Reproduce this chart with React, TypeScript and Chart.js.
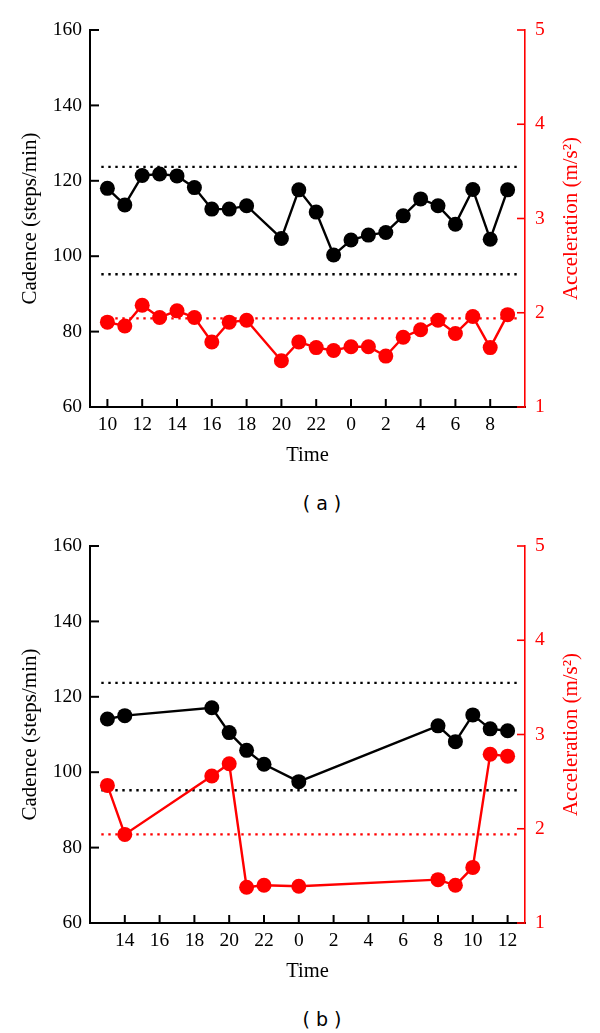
import React, { useEffect, useRef } from "react";
import { Chart, registerables } from "chart.js";

Chart.register(...registerables);

const SERIF = "'Liberation Serif', 'Times New Roman', serif";
const RED = "#ff0000";

// ---------- Panel (a) ----------
const hoursA = [10, 11, 12, 13, 14, 15, 16, 17, 18, 20, 21, 22, 23, 24, 25, 26, 27, 28, 29, 30, 31, 32, 33];
const cadenceA = [118.0, 113.6, 121.4, 121.8, 121.3, 118.2, 112.5, 112.5, 113.4, 104.7, 117.6, 111.7, 100.3, 104.3, 105.6, 106.3, 110.7, 115.2, 113.4, 108.5, 117.7, 104.5, 117.6];
const accelA = [1.90, 1.86, 2.08, 1.95, 2.02, 1.95, 1.69, 1.90, 1.92, 1.49, 1.69, 1.63, 1.60, 1.64, 1.64, 1.54, 1.74, 1.82, 1.92, 1.78, 1.96, 1.63, 1.98];
const timeTicksA = [10, 12, 14, 16, 18, 20, 22, 24, 26, 28, 30, 32];
const timeRangeA = [9, 34];
const refSpanA = [9.65, 33.7];

// ---------- Panel (b) ----------
const hoursB = [13, 14, 19, 20, 21, 22, 24, 32, 33, 34, 35, 36];
const cadenceB = [114.1, 115.0, 117.1, 110.5, 105.8, 102.1, 97.5, 112.3, 108.1, 115.2, 111.5, 111.0];
const accelB = [2.46, 1.94, 2.56, 2.69, 1.38, 1.40, 1.39, 1.46, 1.40, 1.59, 2.79, 2.77];
const timeTicksB = [14, 16, 18, 20, 22, 24, 26, 28, 30, 32, 34, 36];
const timeRangeB = [12, 37];
const refSpanB = [12.65, 36.75];

// ---------- shared ----------
const cadenceTicks = [60, 80, 100, 120, 140, 160];
const accelTicks = [1, 2, 3, 4, 5];
const cadenceLimits = [123.7, 95.2];
const accelLimit = 1.94;

const inwardTicks = {
  id: "inwardTicks",
  afterDraw(chart: any) {
    const { ctx, chartArea, scales } = chart;
    const { left, right, top, bottom } = chartArea;
    ctx.save();
    ctx.lineWidth = 2;
    ctx.strokeStyle = "#000";
    scales.x.ticks.forEach((t: any) => {
      const px = scales.x.getPixelForValue(t.value);
      ctx.beginPath();
      ctx.moveTo(px, bottom);
      ctx.lineTo(px, bottom - 8);
      ctx.stroke();
    });
    scales.y.ticks.forEach((t: any) => {
      const py = scales.y.getPixelForValue(t.value);
      ctx.beginPath();
      ctx.moveTo(left, py);
      ctx.lineTo(left + 9, py);
      ctx.stroke();
    });
    ctx.strokeStyle = RED;
    ctx.lineWidth = 1.6;
    scales.y2.ticks.forEach((t: any) => {
      const py = scales.y2.getPixelForValue(t.value);
      ctx.beginPath();
      ctx.moveTo(right, py);
      ctx.lineTo(right - 8, py);
      ctx.stroke();
    });
    // right axis title, reading bottom-to-top
    ctx.translate(571, (top + bottom) / 2);
    ctx.rotate(-Math.PI / 2);
    ctx.fillStyle = RED;
    ctx.font = `21px ${SERIF}`;
    ctx.textAlign = "center";
    ctx.textBaseline = "middle";
    ctx.fillText("Acceleration (m/s\u00B2)", 0, 0);
    ctx.restore();
  },
};

type PanelProps = {
  hours: number[];
  cadence: number[];
  accel: number[];
  ticks: number[];
  range: number[];
  span: number[];
  top: number;
  caption: string;
};

function Panel({ hours, cadence, accel, ticks, range, span, top, caption }: PanelProps) {
  const ref = useRef<HTMLCanvasElement | null>(null);

  useEffect(() => {
    if (!ref.current) return;
    const refLine = (val: number, color: string, axis: string) => ({
      type: "line" as const,
      data: span.map((x) => ({ x, y: val })),
      yAxisID: axis,
      borderColor: color,
      borderWidth: 2.4,
      borderDash: [2.4, 4.6],
      pointRadius: 0,
      order: 5,
    });
    const chart = new Chart(ref.current, {
      type: "line",
      data: {
        datasets: [
          {
            data: hours.map((x, i) => ({ x, y: cadence[i] })),
            yAxisID: "y",
            borderColor: "#000",
            backgroundColor: "#000",
            borderWidth: 2.4,
            pointRadius: 7.5,
            pointBorderWidth: 0,
            pointBackgroundColor: "#000",
            order: 1,
          },
          {
            data: hours.map((x, i) => ({ x, y: accel[i] })),
            yAxisID: "y2",
            borderColor: RED,
            backgroundColor: RED,
            borderWidth: 2.4,
            pointRadius: 7.5,
            pointBorderWidth: 0,
            pointBackgroundColor: RED,
            order: 2,
          },
          refLine(cadenceLimits[0], "#000", "y"),
          refLine(cadenceLimits[1], "#000", "y"),
          refLine(accelLimit, RED, "y2"),
        ],
      },
      options: {
        animation: false,
        responsive: false,
        maintainAspectRatio: false,
        layout: { padding: { top: 30, left: 0, right: 0, bottom: 0 } },
        plugins: { legend: { display: false }, tooltip: { enabled: false } },
        scales: {
          x: {
            type: "linear",
            position: "bottom",
            min: range[0],
            max: range[1],
            afterBuildTicks: (s: any) => {
              s.ticks = ticks.map((v) => ({ value: v }));
            },
            afterFit: (s: any) => {
              s.height = 73;
            },
            grid: { display: true, drawOnChartArea: false, drawTicks: false },
            border: { display: true, color: "#000", width: 2 },
            ticks: {
              color: "#000",
              font: { family: SERIF, size: 19.5 },
              padding: 6,
              autoSkip: false,
              maxRotation: 0,
              callback: (v: any) => String(Number(v) % 24),
            },
            title: {
              display: true,
              text: "Time",
              color: "#000",
              font: { family: SERIF, size: 20.5 },
              padding: { top: 0, bottom: 12.5 },
            },
          },
          y: {
            type: "linear",
            position: "left",
            min: 60,
            max: 160,
            afterBuildTicks: (s: any) => {
              s.ticks = cadenceTicks.map((v) => ({ value: v }));
            },
            afterFit: (s: any) => {
              s.width = 90;
            },
            grid: { display: true, drawOnChartArea: false, drawTicks: false },
            border: { display: true, color: "#000", width: 2 },
            ticks: { color: "#000", font: { family: SERIF, size: 19.5 }, padding: 8 },
            title: {
              display: true,
              text: "Cadence (steps/min)",
              color: "#000",
              font: { family: SERIF, size: 21 },
              padding: { top: 17.4, bottom: 0 },
            },
          },
          y2: {
            type: "linear",
            position: "right",
            min: 1,
            max: 5,
            afterBuildTicks: (s: any) => {
              s.ticks = accelTicks.map((v) => ({ value: v }));
            },
            afterFit: (s: any) => {
              s.width = 75;
            },
            grid: { display: true, drawOnChartArea: false, drawTicks: false },
            border: { display: true, color: RED, width: 1.6 },
            ticks: { color: RED, font: { family: SERIF, size: 19.5 }, padding: 10 },
          },
        },
      } as any,
      plugins: [inwardTicks],
    });
    return () => chart.destroy();
  }, []);

  return (
    <>
      <canvas
        ref={ref}
        width={600}
        height={480}
        style={{ position: "absolute", left: 0, top, width: 600, height: 480, display: "block" }}
      />
      <div
        style={{
          position: "absolute",
          left: 222,
          top: top + 490,
          width: 200,
          textAlign: "center",
          fontFamily: "'DejaVu Sans', sans-serif",
          fontSize: 19,
          lineHeight: "26px",
          color: "#000",
          whiteSpace: "pre",
        }}
      >
        {caption}
      </div>
    </>
  );
}

export default function App() {
  return (
    <div style={{ position: "absolute", left: 0, top: 0, width: 600, height: 1033, background: "#fff", overflow: "hidden" }}>
      <Panel hours={hoursA} cadence={cadenceA} accel={accelA} ticks={timeTicksA} range={timeRangeA} span={refSpanA} top={0} caption="( a )" />
      <Panel hours={hoursB} cadence={cadenceB} accel={accelB} ticks={timeTicksB} range={timeRangeB} span={refSpanB} top={516} caption="( b )" />
    </div>
  );
}
